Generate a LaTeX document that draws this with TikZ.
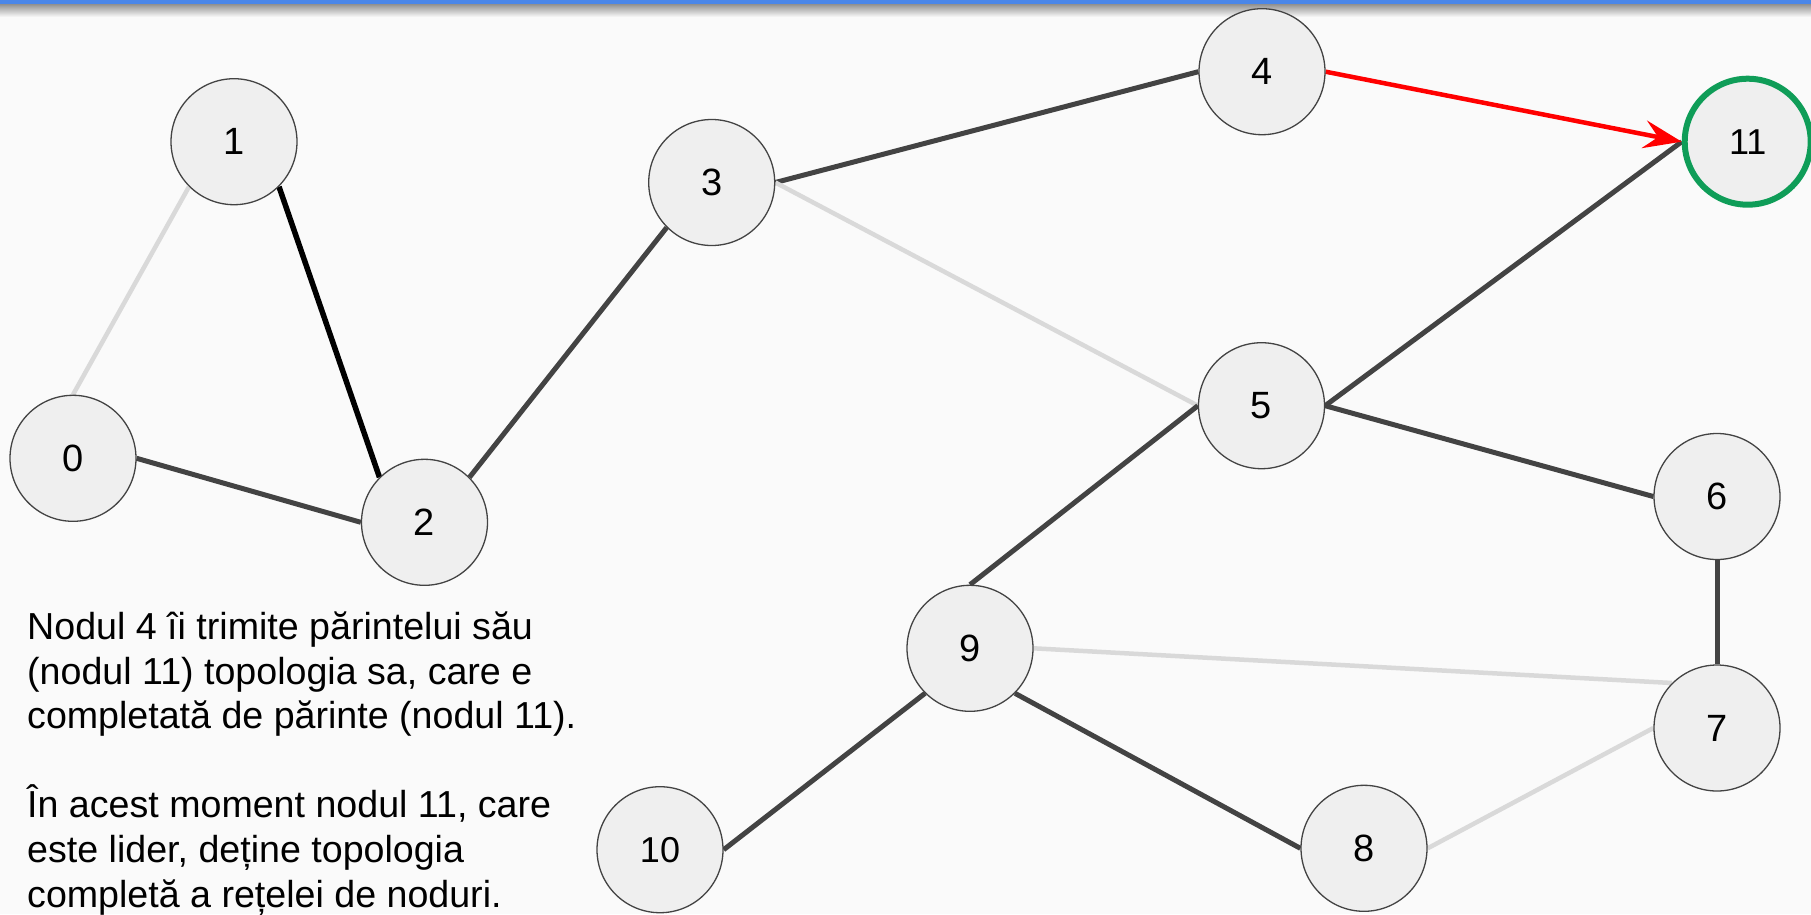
\documentclass[tikz,border=0pt]{standalone}
\usepackage{fontspec}
\setmainfont{Liberation Sans}
\usetikzlibrary{arrows.meta}
\pgfdeclarelayer{backdrop}
\pgfdeclarelayer{edges}
\pgfsetlayers{backdrop,edges,main}
\definecolor{pagebg}{HTML}{FAFAFA}
\definecolor{topbar}{HTML}{4A86E8}
\definecolor{nodefill}{HTML}{EFEFEF}
\definecolor{nodeline}{HTML}{434343}
\definecolor{darkedge}{HTML}{434343}
\definecolor{lightedge}{HTML}{D9D9D9}
\definecolor{leadergreen}{HTML}{0F9D58}
\definecolor{msgred}{HTML}{FF0000}
\begin{document}
\begin{tikzpicture}[x=1pt,y=-1pt,
  vertex/.style={circle, draw=nodeline, line width=1.3pt, fill=nodefill,
    minimum size=126pt, inner sep=0pt, font=\fontsize{38}{42}\selectfont},
  smallnum/.style={font=\fontsize{36}{40}\selectfont},
  leader/.style={draw=leadergreen, line width=6pt},
  strong/.style={draw=darkedge, line width=5pt},
  faint/.style={draw=lightedge, line width=4.5pt},
  tree/.style={draw=black, line width=5.5pt},
  message/.style={draw=msgred, line width=4.5pt,
    -{Stealth[length=38pt, width=28pt, inset=14pt]}},
  caption/.style={anchor=base west, inner sep=0pt,
    font=\fontsize{37.6}{44}\selectfont}]

\useasboundingbox (0,0) rectangle (1811,914);

% page background, blue header bar and its soft shadow
\begin{pgfonlayer}{backdrop}
  \fill[pagebg] (0,0) rectangle (1811,914);
  \shade[top color=black!45, bottom color=pagebg] (0,3.5) rectangle (1811,17);
  \fill[topbar] (0,0) rectangle (1811,3.5);
\end{pgfonlayer}

% network nodes
\node[vertex] (n0)  at (73,458.3)    {0};
\node[vertex] (n1)  at (234,141.7)   {1};
\node[vertex] (n2)  at (424.5,522.3) {2};
\node[vertex] (n3)  at (711.7,182.5) {3};
\node[vertex] (n4)  at (1262,71.7)   {4};
\node[vertex] (n5)  at (1261.5,405.7) {5};
\node[vertex] (n6)  at (1717,496.5)  {6};
\node[vertex] (n7)  at (1717,728)    {7};
\node[vertex] (n8)  at (1364,848.3)  {8};
\node[vertex] (n9)  at (970,648.3)   {9};
\node[vertex, smallnum] (n10) at (660,849.7) {10};
\node[vertex, smallnum, leader] (n11) at (1747.7,141.7) {11};

% links between nodes
\begin{pgfonlayer}{edges}
  \draw[faint]  (n0.north) -- (n1.south west);
  \draw[tree]   (n1.south east) -- (n2.north west);
  \draw[strong] (n0.east) -- (n2.west);
  \draw[strong] (n2.north east) -- (n3.south west);
  \draw[strong] (n3.east) -- (n4.west);
  \draw[faint]  (n3.east) -- (n5.west);
  \draw[strong] (n11.west) -- (n5.east);
  \draw[strong] (n5.east) -- (n6.west);
  \draw[strong] (n5.west) -- (n9.north);
  \draw[strong] (n6.south) -- (n7.north);
  \draw[faint]  (n9.east) -- (n7.north west);
  \draw[strong] (n9.south west) -- (n10.east);
  \draw[strong] (n9.south east) -- (n8.west);
  \draw[faint]  (n8.east) -- (n7.west);
  \draw[message] (n4.east) -- (n11.west);
\end{pgfonlayer}

% explanatory text
\node[caption] (l1) at (27,639) {Nodul 4 îi trimite părintelui său};
\node[caption] (l2) at (27,684) {(nodul 11) topologia sa, care e};
\node[caption] (l3) at (27,728) {completată de părinte (nodul 11).};
\node[caption] (l4) at (27,817) {În acest moment nodul 11, care};
\node[caption] (l5) at (27,862) {este lider, deține topologia};
\node[caption] (l6) at (27,907) {completă a rețelei de noduri.};

\end{tikzpicture}
\end{document}
